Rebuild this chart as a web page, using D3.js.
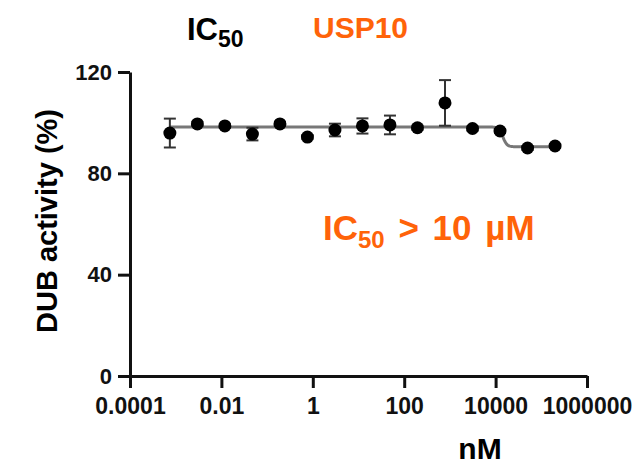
<!DOCTYPE html>
<html>
<head>
<meta charset="utf-8">
<script src="https://cdn.jsdelivr.net/npm/d3@7"></script>
<style>
  body { margin: 0; background: #fff; }
  text { font-family: "Liberation Sans", Arial, sans-serif; font-weight: bold; }
</style>
</head>
<body>
<script>
// concentrations in nM (4-fold dilution from 200 uM)
const conc = [0.000745, 0.00298, 0.0119, 0.0477, 0.191, 0.763, 3.05, 12.2, 48.8, 195, 781, 3125, 12500, 50000, 200000];
const activity = [95.9, 99.5, 98.7, 95.5, 99.5, 94.3, 97.1, 98.7, 99.1, 98.0, 107.8, 97.7, 96.7, 90.0, 90.8];
const sem = [5.7, 0.8, 0.8, 2.5, 0.8, 0.8, 2.5, 3.0, 3.7, 0.8, 9.0, 0.8, 0.8, 0.8, 0.8];
const xTicks = [0.0001, 0.01, 1, 100, 10000, 1000000];
const yTicks = [0, 40, 80, 120];
// fitted 4PL curve parameters
const fitTop = 98.3, fitBottom = 90.5, fitLogIC50 = 4.16, fitHill = 10;

const orange = "#ff6309";

const svg = d3.select("body").append("svg")
    .attr("width", 641)
    .attr("height", 464);

const x = d3.scaleLog().domain([0.0001, 1000000]).range([130, 587]);
const y = d3.scaleLinear().domain([0, 120]).range([376, 72]);

// axes
const xAxis = svg.append("g")
    .attr("transform", "translate(0,376)")
    .call(d3.axisBottom(x).tickValues(xTicks).tickFormat(d3.format("")).tickSize(12).tickSizeOuter(0).tickPadding(10));
const yAxis = svg.append("g")
    .attr("transform", "translate(130,0)")
    .call(d3.axisLeft(y).tickValues(yTicks).tickSize(12).tickSizeOuter(0).tickPadding(6));

[xAxis, yAxis].forEach(g => {
    g.selectAll("path, line").attr("stroke", "#111").attr("stroke-width", 3);
    g.selectAll("text").attr("fill", "#111").style("font-size", "22px");
});
xAxis.selectAll("text").style("font-size", "23px");

// fitted curve
const fit = d => fitBottom + (fitTop - fitBottom) / (1 + Math.pow(10, (Math.log10(d) - fitLogIC50) * fitHill));
const curveX = d3.range(0, 401).map(i => Math.pow(10, Math.log10(conc[0]) + i / 400 * (Math.log10(conc[conc.length - 1]) - Math.log10(conc[0]))));
svg.append("path")
    .datum(curveX)
    .attr("fill", "none")
    .attr("stroke", "#777")
    .attr("stroke-width", 3)
    .attr("d", d3.line().x(d => x(d)).y(d => y(fit(d))));

// error bars
const pts = conc.map((c, i) => ({ c: c, v: activity[i], e: sem[i] }));
const eb = svg.selectAll(".eb").data(pts).enter().append("g").attr("class", "eb")
    .attr("stroke", "#333").attr("stroke-width", 2);
eb.append("line")
    .attr("x1", d => x(d.c)).attr("x2", d => x(d.c))
    .attr("y1", d => y(d.v - d.e)).attr("y2", d => y(d.v + d.e));
eb.append("line")
    .attr("x1", d => x(d.c) - 6).attr("x2", d => x(d.c) + 6)
    .attr("y1", d => y(d.v + d.e)).attr("y2", d => y(d.v + d.e));
eb.append("line")
    .attr("x1", d => x(d.c) - 6).attr("x2", d => x(d.c) + 6)
    .attr("y1", d => y(d.v - d.e)).attr("y2", d => y(d.v - d.e));

// points
svg.selectAll("circle").data(pts).enter().append("circle")
    .attr("cx", d => x(d.c))
    .attr("cy", d => y(d.v))
    .attr("r", 6.5)
    .attr("fill", "#000");

// labels
svg.append("text")
    .attr("transform", "translate(57,221) rotate(-90)")
    .attr("text-anchor", "middle")
    .style("font-size", "29px")
    .text("DUB activity (%)");

svg.append("text")
    .attr("x", 480).attr("y", 459)
    .attr("text-anchor", "middle")
    .style("font-size", "30px")
    .text("nM");

const t1 = svg.append("text").attr("x", 187).attr("y", 40).style("font-size", "31px");
t1.append("tspan").text("IC");
t1.append("tspan").attr("dy", 7).style("font-size", "23px").text("50");

svg.append("text")
    .attr("x", 313).attr("y", 38)
    .attr("fill", orange)
    .style("font-size", "30px")
    .text("USP10");

const t2 = svg.append("text").attr("x", 323).attr("y", 240).attr("fill", orange)
    .style("font-size", "35px").style("word-spacing", "4px");
t2.append("tspan").text("IC");
t2.append("tspan").attr("dy", 8).style("font-size", "24px").text("50");
t2.append("tspan").attr("dy", -8).text(" > 10 µM");
</script>
</body>
</html>
